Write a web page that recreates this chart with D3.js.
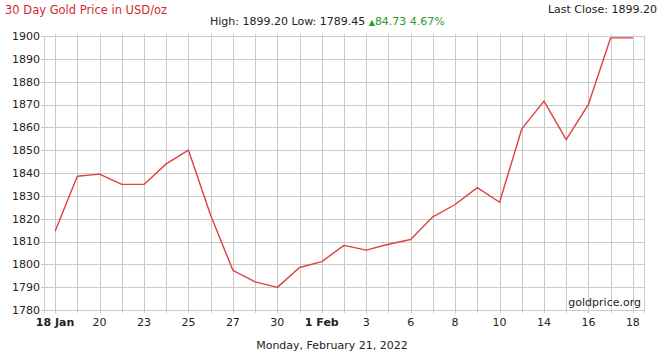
<!DOCTYPE html>
<html>
<head>
<meta charset="utf-8">
<script src="https://cdn.jsdelivr.net/npm/d3@7"></script>
<style>
  body { margin: 0; background: #fff; }
  svg { display: block; font-family: Verdana, "DejaVu Sans", sans-serif; }
</style>
</head>
<body>
<div id="chart"><svg></svg></div>
<script>
// trading days shown on the chart (label text of each point)
const days = ['18 Jan', '19', '20', '21', '23', '24', '25', '26', '27', '28', '30', '31',
  '1 Feb', '2', '3', '4', '6', '7', '8', '9', '10', '11', '14', '15', '16', '17', '18'];
// closing prices, USD/oz
const prices = [1814.47, 1838.6, 1839.5, 1835.0, 1835.0, 1844.0, 1850.0, 1821.5, 1797.4, 1792.3,
  1789.9, 1798.6, 1801.2, 1808.3, 1806.2, 1808.8, 1810.9, 1820.8, 1826.2, 1833.6,
  1827.2, 1859.3, 1871.5, 1854.6, 1870.1, 1899.2, 1899.2];
const yTicks = [1780, 1790, 1800, 1810, 1820, 1830, 1840, 1850, 1860, 1870, 1880, 1890, 1900];
const labelEvery = 2;

const title = '30 Day Gold Price in USD/oz';
const lastClose = 'Last Close: 1899.20';
const highLow = 'High: 1899.20 Low: 1789.45 ';
const change = '84.73 4.67%';
const footer = 'Monday, February 21, 2022';
const credit = 'goldprice.org';

const width = 660, height = 352;
const margin = ({top: 36, right: 16, bottom: 42, left: 44});

const svg = d3.select('#chart').select('svg')
  .attr('width', width)
  .attr('height', height);

const x = d3.scalePoint()
  .domain(d3.range(days.length))
  .range([margin.left, width - margin.right])
  .padding(0.5);

const y = d3.scaleLinear()
  .domain([yTicks[0], yTicks[yTicks.length - 1]])
  .range([height - margin.bottom, margin.top]);

const gridColor = '#cbcbcb';
const x0 = margin.left, x1 = width - margin.right;
const y0 = height - margin.bottom, y1 = margin.top;

// horizontal grid + y labels
const gy = svg.append('g');
gy.selectAll('line')
  .data(yTicks)
  .join('line')
    .attr('x1', x0 - 3)
    .attr('x2', x1)
    .attr('y1', d => Math.round(y(d)) + 0.5)
    .attr('y2', d => Math.round(y(d)) + 0.5)
    .attr('stroke', gridColor);
gy.selectAll('text')
  .data(yTicks)
  .join('text')
    .attr('x', x0 - 4)
    .attr('y', d => y(d))
    .attr('dy', '0.36em')
    .attr('text-anchor', 'end')
    .attr('font-size', 11)
    .attr('fill', '#222')
    .text(d => d);

// vertical grid
const gx = svg.append('g');
gx.selectAll('line')
  .data(d3.range(days.length))
  .join('line')
    .attr('x1', d => Math.round(x(d)) + 0.5)
    .attr('x2', d => Math.round(x(d)) + 0.5)
    .attr('y1', y1 - 2)
    .attr('y2', y0 + 3)
    .attr('stroke', gridColor);
// frame sides
[x0, x1].forEach(v => {
  svg.append('line')
    .attr('x1', v + 0.5).attr('x2', v + 0.5)
    .attr('y1', y1).attr('y2', y0 + 3)
    .attr('stroke', gridColor);
});

gx.selectAll('text')
  .data(d3.range(0, days.length, labelEvery))
  .join('text')
    .attr('x', d => x(d))
    .attr('y', y0 + 16)
    .attr('text-anchor', 'middle')
    .attr('font-size', 11)
    .attr('font-weight', d => days[d].includes(' ') ? 'bold' : 'normal')
    .attr('fill', '#222')
    .text(d => days[d]);

// price line
const line = d3.line()
  .x((d, i) => x(i))
  .y(d => y(d));
svg.append('path')
  .datum(prices)
  .attr('fill', 'none')
  .attr('stroke', '#e0403f')
  .attr('stroke-width', 1.4)
  .attr('stroke-linejoin', 'round')
  .attr('d', line);

// texts
svg.append('text')
  .attr('x', 5).attr('y', 14)
  .attr('font-size', 11.5)
  .attr('fill', '#d22a32')
  .text(title);

svg.append('text')
  .attr('x', 657).attr('y', 13)
  .attr('text-anchor', 'end')
  .attr('font-size', 11)
  .attr('fill', '#222')
  .text(lastClose);

const stats = svg.append('text')
  .attr('x', 210).attr('y', 25)
  .attr('font-size', 11)
  .attr('fill', '#222');
stats.append('tspan').text(highLow);
stats.append('tspan').attr('fill', '#2a9a2a').attr('font-size', 8).text('\u25B2');
stats.append('tspan').attr('fill', '#2a9a2a').text(change);

svg.append('text')
  .attr('x', x1 - 3).attr('y', y0 - 4)
  .attr('text-anchor', 'end')
  .attr('font-size', 11)
  .attr('fill', '#222')
  .text(credit);

svg.append('text')
  .attr('x', 332).attr('y', 349)
  .attr('text-anchor', 'middle')
  .attr('font-size', 11)
  .attr('fill', '#222')
  .text(footer);
</script>
</body>
</html>
